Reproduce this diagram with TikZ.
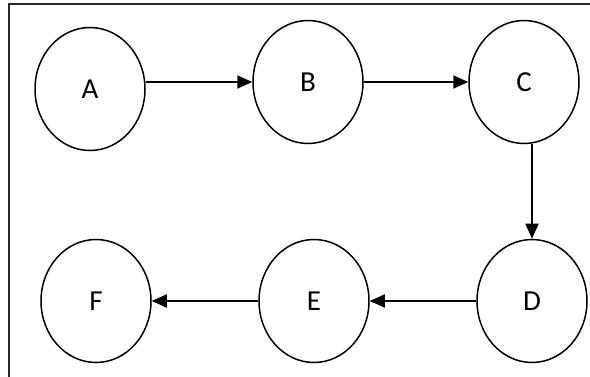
\documentclass[tikz,border=0pt]{standalone}
\usepackage{fontspec}
\setmainfont{Carlito}
\usetikzlibrary{shapes.geometric,arrows.meta}
\begin{document}
\begin{tikzpicture}[x=1pt,y=-1pt,
  state/.style={ellipse, draw, line width=1.5pt, minimum width=110pt,
    minimum height=123pt, inner sep=0pt, font=\fontsize{29}{29}\selectfont},
  flow/.style={-{Triangle[length=15pt,width=13pt]}, line width=1.8pt},
  frame/.style={line width=1.6pt, draw=black!85}]
\useasboundingbox (0,0) rectangle (590,377);
% open frame: top and left edges only
\draw[frame] (9,377) -- (9,4) -- (590,4);
% states
\node[state] (A) at (90,89)  {A};
\node[state] (B) at (308,82) {B};
\node[state] (C) at (524,82) {C};
\node[state] (D) at (532,301) {D};
\node[state] (E) at (314,301) {E};
\node[state] (F) at (96,301) {F};
% transitions
\draw[flow] (A.east |- B.west) -- (B.west);
\draw[flow] (B.east) -- (C.west);
\draw[flow] (C.south -| D.north) -- (D.north);
\draw[flow] (D.west) -- (E.east);
\draw[flow] (E.west) -- (F.east);
\end{tikzpicture}
\end{document}
